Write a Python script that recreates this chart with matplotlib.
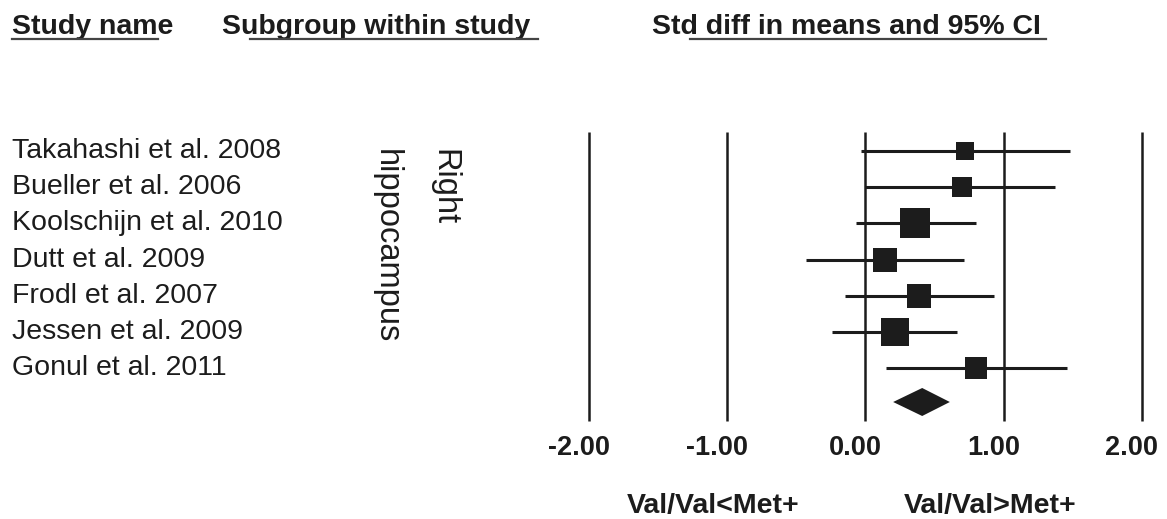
import numpy as np
import matplotlib
matplotlib.use("Agg")
import matplotlib.pyplot as plt
from matplotlib.lines import Line2D

# data
studies = ["Takahashi et al. 2008", "Bueller et al. 2006", "Koolschijn et al. 2010",
           "Dutt et al. 2009", "Frodl et al. 2007", "Jessen et al. 2009", "Gonul et al. 2011"]
effects = [0.72, 0.70, 0.36, 0.14, 0.39, 0.21, 0.80]
lower = [-0.03, 0.00, -0.07, -0.43, -0.15, -0.24, 0.15]
upper = [1.48, 1.37, 0.80, 0.71, 0.93, 0.66, 1.46]
weights = [8.4, 9.4, 21.8, 13.7, 14.9, 20.3, 11.4]
pooled_lo, pooled_est, pooled_hi = 0.20, 0.41, 0.61
subgroup = ["Right", "hippocampus"]
ticks = [-2, -1, 0, 1, 2]
tick_labels = ["-2.00", "-1.00", "0.00", "1.00", "2.00"]
favours = ["Val/Val<Met+", "Val/Val>Met+"]
favours_x = [-1.1, 0.9]
headers = ["Study name", "Subgroup within study", "Std diff in means and 95% CI"]

plt.rcParams['font.family'] = ['Liberation Sans', 'DejaVu Sans']
INK = '#1c1c1c'
W, H = 1167, 519
X_LEFT, X_RIGHT = 589, 1142          # pixel positions of -2 and 2
ROW0, STEP = 151, 36.2               # pixel of first row and row spacing
ppu = (X_RIGHT - X_LEFT) / 4.0


def py(p):
    return (p - ROW0) / STEP


def px(p):
    return (p - X_LEFT) / ppu - 2


fig = plt.figure(figsize=(W / 100, H / 100), dpi=100)
ax = fig.add_axes([0, 0, 1, 1])
ax.set_xlim(px(0), px(W))
ax.set_ylim(py(H), py(0))
ax.axis('off')

# reference lines
ax.vlines(ticks, py(132), py(421), color=INK, lw=1.8)

# study rows
rows = np.arange(len(studies))
ax.hlines(rows, lower, upper, color=INK, lw=2.2, zorder=3)
for i, (e, w) in enumerate(zip(effects, weights)):
    side_px = 6.3 * np.sqrt(w)
    ax.plot(e, i, marker='s', ms=side_px * 0.72, color=INK, mec=INK, mew=0, zorder=4)
    ax.text(px(12), i, studies[i], ha='left', va='center', fontsize=20.5, color=INK)

# pooled diamond
yd, hd = py(402), 14 / STEP
ax.fill([pooled_lo, pooled_est, pooled_hi, pooled_est], [yd, yd - hd, yd, yd + hd],
        color=INK, lw=0, zorder=4)

# subgroup label, rotated, one column per line
for lab, cx in zip(subgroup, [444, 386]):
    ax.text(px(cx), py(149), lab, rotation=270, ha='center', va='top',
            fontsize=23.5, color=INK)

# axis labels (sit slightly left of their lines, as in the original)
shift = 10 / ppu
for t, lab in zip(ticks, tick_labels):
    ax.text(t - shift, py(448), lab, ha='center', va='center', fontsize=19.5,
            fontweight='bold', color=INK)
for x, lab in zip(favours_x, favours):
    ax.text(x, py(506), lab, ha='center', va='center', fontsize=20.5, fontweight='bold', color=INK)

# headers with partial underlines
header_x = [12, 222, 652]
underlines = [(12, 158), (250, 538), (690, 1046)]
for hx, lab, (u0, u1) in zip(header_x, headers, underlines):
    ax.text(px(hx), py(34), lab, ha='left', va='baseline', fontsize=20.5, fontweight='bold', color=INK)
    fig.add_artist(Line2D([u0 / W, u1 / W], [1 - 39 / H, 1 - 39 / H], color='#444444', lw=1.6))

fig.savefig('out.png', dpi=100, facecolor='white')
